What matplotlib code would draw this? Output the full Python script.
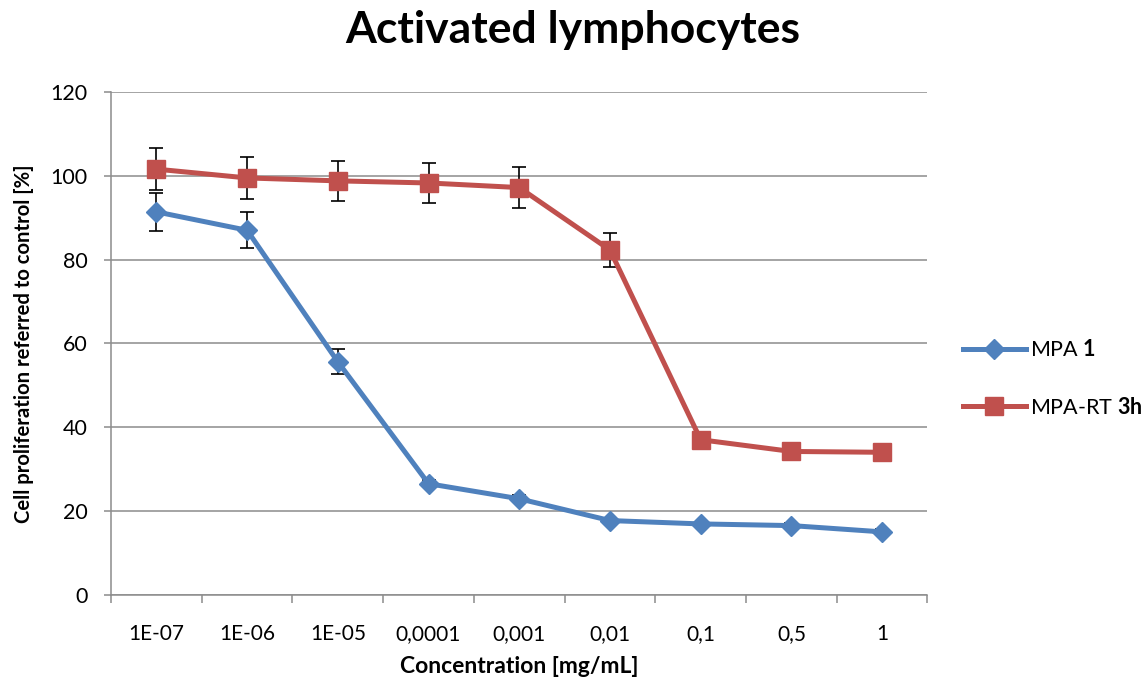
import numpy as np
import matplotlib
matplotlib.use("Agg")
import matplotlib.pyplot as plt

plt.rcParams['font.family'] = ['Lato', 'DejaVu Sans']
plt.rcParams['mathtext.fontset'] = 'custom'
plt.rcParams['mathtext.rm'] = 'Lato'
plt.rcParams['mathtext.bf'] = 'Lato:bold'

# data
concentrations = ["1E-07", "1E-06", "1E-05", "0,0001", "0,001", "0,01", "0,1", "0,5", "1"]
mpa1 = [91.4, 87.0, 55.6, 26.5, 22.9, 17.7, 16.9, 16.5, 15.0]
mpa1_err = [4.6, 4.3, 3.0, 0.8, 0.8, 0.6, 0.5, 0.5, 0.6]
mpart3h = [101.6, 99.5, 98.8, 98.3, 97.2, 82.3, 37.0, 34.2, 34.0]
mpart3h_err = [5.0, 5.0, 4.7, 4.8, 4.8, 4.1, 0.8, 0.8, 0.8]

blue = "#4F81BD"
red = "#C0504D"

fig = plt.figure(figsize=(11.45, 6.82), dpi=100)
ax = fig.add_axes([0.097, 0.128, 0.713, 0.737])

x = np.arange(len(concentrations))

ax.errorbar(x, mpa1, yerr=mpa1_err, fmt='none', ecolor='black', elinewidth=1.2,
            capsize=5, capthick=1.2, zorder=2)
ax.errorbar(x, mpart3h, yerr=mpart3h_err, fmt='none', ecolor='black', elinewidth=1.2,
            capsize=5, capthick=1.2, zorder=2)
ax.plot(x, mpa1, color=blue, lw=3.6, marker='D', markersize=10,
        label=r"MPA $\mathbf{1}$", zorder=3)
ax.plot(x, mpart3h, color=red, lw=3.6, marker='s', markersize=13,
        label=r"MPA-RT $\mathbf{3h}$", zorder=3)

ax.set_xlim(-0.5, len(concentrations) - 0.5)
ax.set_ylim(0, 120)
ax.set_yticks(np.arange(0, 121, 20))
ax.yaxis.grid(True, color='#8c8c8c', lw=1.1)
ax.set_axisbelow(True)

ax.set_xticks(x)
ax.set_xticklabels(concentrations)
ax.set_xticks(np.arange(-0.5, len(concentrations), 1), minor=True)
ax.tick_params(axis='x', which='major', length=0, pad=21, labelsize=15)
ax.tick_params(axis='x', which='minor', length=6, color='#8c8c8c', width=1.1)
ax.tick_params(axis='y', length=5, color='#8c8c8c', width=1.1, labelsize=15.5, pad=12)

for s in ['top', 'right']:
    ax.spines[s].set_visible(False)
for s in ['left', 'bottom']:
    ax.spines[s].set_color('#8c8c8c')
    ax.spines[s].set_linewidth(1.1)

ax.set_xlabel("Concentration [mg/mL]", fontsize=16.5, fontweight='bold', labelpad=9)
ax.set_ylabel("Cell proliferation referred to control [%]", fontsize=14.6,
              fontweight='bold', labelpad=12)
fig.suptitle("Activated lymphocytes", fontsize=32, fontweight='bold', y=0.985)

ax.legend(loc='center left', bbox_to_anchor=(1.02, 0.43), frameon=False,
          fontsize=15.5, handlelength=2.9, labelspacing=1.7, handletextpad=0.2)

fig.savefig("out.png", dpi=100)
